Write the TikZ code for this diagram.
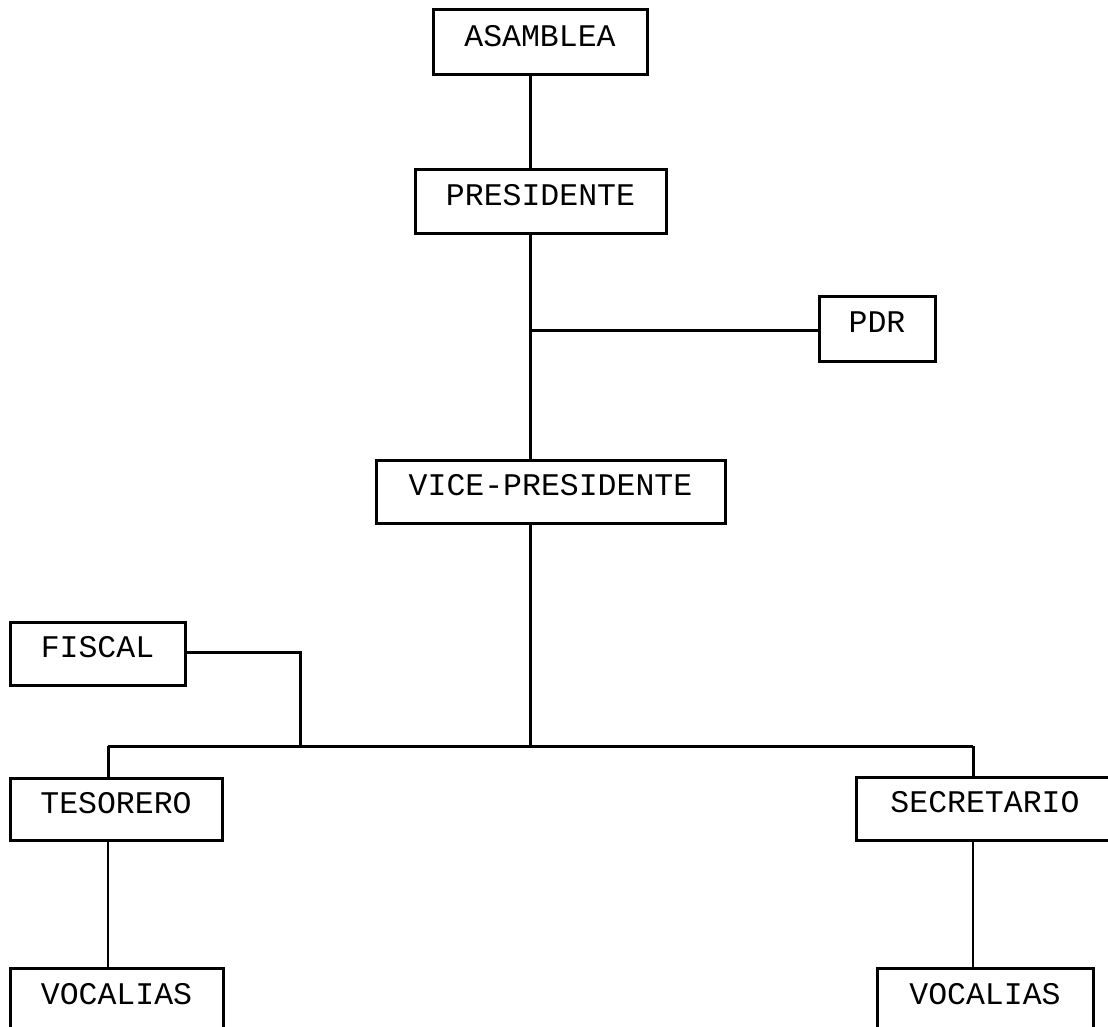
\documentclass[tikz,border=0pt]{standalone}
\usepackage{fontspec}
\setmonofont{Liberation Mono}
\begin{document}
\begin{tikzpicture}[x=1pt,y=-1pt,
  box/.style={draw,line width=3pt,rectangle,inner sep=0pt,
    text height=20pt,text depth=12pt,
    font=\ttfamily\fontsize{31.5}{32}\selectfont},
  link/.style={line width=3pt},
  thinlink/.style={line width=2pt}]
\useasboundingbox (0,0) rectangle (1108,1027);
\fill[white] (0,0) rectangle (1108,1027);
\clip (0,0) rectangle (1108,1027);

\node[box,minimum width=214pt,minimum height=65pt] (asm)  at (540,42.5)  {ASAMBLEA};
\node[box,minimum width=251pt,minimum height=63pt] (pres) at (540.5,201.5) {PRESIDENTE};
\node[box,minimum width=116pt,minimum height=65pt] (pdr)  at (877,328.5) {PDR};
\node[box,minimum width=349pt,minimum height=63pt] (vice) at (550.5,491.5) {VICE-PRESIDENTE};
\node[box,minimum width=175pt,minimum height=63pt] (fis)  at (97.5,653.5) {FISCAL};
\node[box,minimum width=212pt,minimum height=62pt] (tes)  at (116,809) {TESORERO};
\node[box,minimum width=258pt,minimum height=63pt] (sec)  at (985,808.5) {SECRETARIO};
\node[box,minimum width=213pt,minimum height=64pt] (vocl) at (116.5,1000) {VOCALIAS};
\node[box,minimum width=216pt,minimum height=64pt] (vocr) at (985,1000) {VOCALIAS};

\coordinate (spine) at (530.5,0);
\coordinate (jp) at (530.5,330);
\coordinate (jm) at (530.5,746);
\coordinate (jf) at (300,746);
\coordinate (jl) at (108,746);
\coordinate (jr) at (973,746);
\coordinate (fc) at (300,652);

\draw[link] (asm.south -| spine) -- (pres.north -| spine);
\draw[link] (pres.south -| spine) -- (vice.north -| spine);
\draw[link] (jp) -- (pdr.west |- jp);
\draw[link] (vice.south -| spine) -- (jm);
\draw[link] (jl) -- (jr);
\draw[link] (fis.east |- fc) -- (fc) -- (jf);
\draw[link] (jl) -- (tes.north -| jl);
\draw[link] (jr) -- (sec.north -| jr);
\draw[thinlink] (tes.south -| jl) -- (vocl.north -| jl);
\draw[thinlink] (sec.south -| jr) -- (vocr.north -| jr);
\end{tikzpicture}
\end{document}
